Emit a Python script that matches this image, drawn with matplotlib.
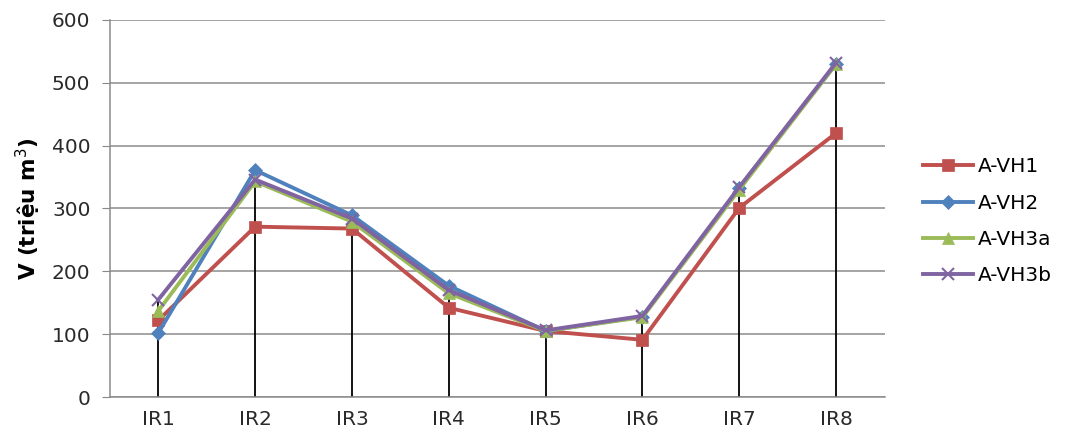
import matplotlib.pyplot as plt
import numpy as np

plt.rcParams['font.family'] = ['DejaVu Sans']

categories = ['IR1', 'IR2', 'IR3', 'IR4', 'IR5', 'IR6', 'IR7', 'IR8']
vh1 = [122, 271, 268, 142, 105, 91, 301, 420]
vh2 = [102, 361, 289, 177, 105, 128, 333, 530]
vh3a = [137, 343, 279, 165, 105, 127, 330, 530]
vh3b = [155, 346, 284, 170, 106, 129, 334, 532]

series = [
    ('A-VH1', vh1, '#C0504D', 's', 9),
    ('A-VH2', vh2, '#4F81BD', 'D', 7),
    ('A-VH3a', vh3a, '#9BBB59', '^', 9),
    ('A-VH3b', vh3b, '#8064A2', 'x', 9),
]

fig = plt.figure(figsize=(10.67, 4.37), dpi=100)
ax = fig.add_axes([0.103, 0.0915, 0.726, 0.863])

x = np.arange(len(categories))

# drop lines from the axis up to the highest point of each category
tops = np.max([vh1, vh2, vh3a, vh3b], axis=0)
ax.vlines(x, 0, tops, colors='black', linewidth=1.3, zorder=2)

for name, vals, col, mk, ms in series:
    ax.plot(x, vals, color=col, linewidth=2.8, marker=mk, markersize=ms,
            markeredgewidth=1.5 if mk == 'x' else 0.5, markeredgecolor=col,
            label=name, zorder=3)

ax.set_xlim(-0.5, len(categories) - 0.5)
ax.set_ylim(0, 600)
ax.set_yticks(range(0, 601, 100))
ax.set_xticks(x)
ax.set_xticklabels(categories)
ax.tick_params(axis='both', labelsize=14.5, labelcolor='#2a2a2a')
ax.tick_params(axis='x', length=0, pad=9)
ax.tick_params(axis='y', length=6, color='#888888', pad=8)

ax.yaxis.grid(True, color='#8c8c8c', linewidth=1.1)
ax.set_axisbelow(True)
for s in ['top', 'right']:
    ax.spines[s].set_visible(False)
for s in ['left', 'bottom']:
    ax.spines[s].set_color('#8c8c8c')
    ax.spines[s].set_linewidth(1.1)

ax.set_ylabel('V (triệu m$^3$)', fontsize=15.5, fontweight='bold', labelpad=6)

fig.legend(loc='center left', bbox_to_anchor=(0.848, 0.494), frameon=False,
           fontsize=14.5, labelspacing=0.85, handlelength=2.5, handletextpad=0.25)

fig.savefig('out.png', dpi=100)
